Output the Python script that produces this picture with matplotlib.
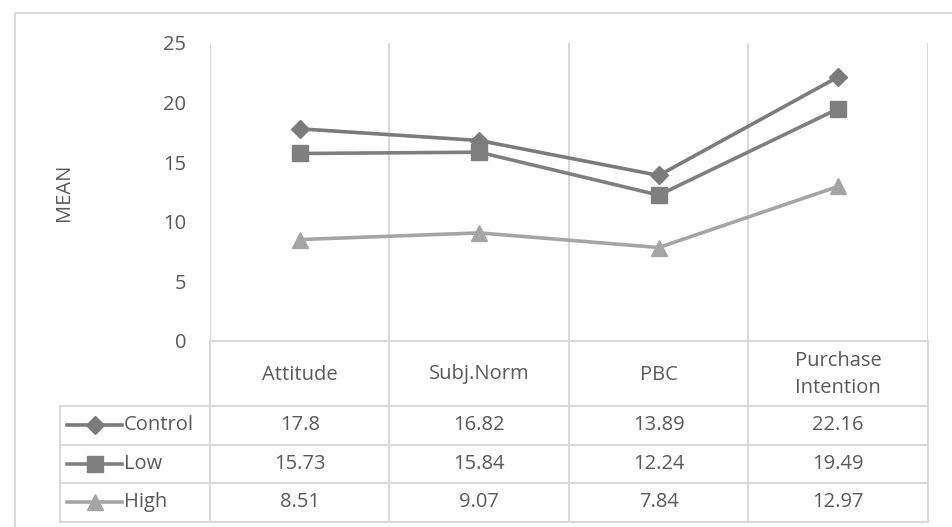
import matplotlib.pyplot as plt
from matplotlib.lines import Line2D
from matplotlib.patches import Rectangle

categories = ["Attitude", "Subj.Norm", "PBC", "Purchase\nIntention"]
series_names = ["Control", "Low", "High"]
control = [17.8, 16.82, 13.89, 22.16]
low = [15.73, 15.84, 12.24, 19.49]
high = [8.51, 9.07, 7.84, 12.97]
yticks = [0, 5, 10, 15, 20, 25]

colors = ["#7b7b7b", "#7f7f7f", "#a5a5a5"]
markers = ["D", "s", "^"]
msizes = [9.5, 11.5, 11.5]
text_c = "#595959"
grid_c = "#d9d9d9"
font = "Open Sans"
fs = 14.5

W, H = 953, 527
fig = plt.figure(figsize=(W / 100, H / 100), dpi=100)

# whole-figure overlay in pixel units for frame and table lines
bg = fig.add_axes([0, 0, 1, 1])
bg.set_xlim(0, W)
bg.set_ylim(H, 0)
bg.axis("off")
bg.add_patch(Rectangle((15, 13), W + 10, H + 10, fill=False, ec=grid_c, lw=1.5))

x0, x1 = 210, 928
y_top, y_zero = 43, 341
ax = fig.add_axes([x0 / W, 1 - y_zero / H, (x1 - x0) / W, (y_zero - y_top) / H])
ax.set_xlim(-0.5, len(categories) - 0.5)
ax.set_ylim(0, 25)
ax.patch.set_alpha(0)
for s in ["top", "right", "left"]:
    ax.spines[s].set_visible(False)
ax.spines["bottom"].set_color(grid_c)
ax.spines["bottom"].set_linewidth(1.5)
ax.set_xticks([])
ax.set_yticks(yticks)
ax.tick_params(axis="y", length=0, pad=17, labelsize=fs, labelcolor=text_c)
for lab in ax.get_yticklabels():
    lab.set_fontfamily(font)
for b in range(len(categories) + 1):
    ax.axvline(b - 0.5, color=grid_c, lw=1.5, zorder=0)
ax.set_ylabel("MEAN", fontsize=fs, color=text_c, family=font, labelpad=64)

xs = list(range(len(categories)))
for vals, c, m, ms in zip([control, low, high], colors, markers, msizes):
    ax.plot(xs, vals, color=c, lw=2.6, marker=m, ms=ms, mfc=c, mec=c, zorder=3)

# data table below the axis
hdr_bot = 406
row_h = 38.5
rows_bot = hdr_bot + row_h * 3
leg_left = 60
px = lambda i: x0 + (i + 0.5) * (x1 - x0) / len(categories)

for b in range(len(categories) + 1):
    xb = x0 + b * (x1 - x0) / len(categories)
    bg.plot([xb, xb], [y_zero, rows_bot], color=grid_c, lw=1.5)
for r in range(0, 4):
    yb = hdr_bot + r * row_h
    bg.plot([leg_left, x1], [yb, yb], color=grid_c, lw=1.5)
bg.plot([leg_left, leg_left], [hdr_bot, rows_bot], color=grid_c, lw=1.5)

for i, cat in enumerate(categories):
    bg.text(px(i), (y_zero + hdr_bot) / 2 + 1, cat, ha="center", va="center",
            fontsize=fs, color=text_c, family=font, linespacing=1.45)

for r, (name, vals, c, m, ms) in enumerate(zip(series_names, [control, low, high],
                                              colors, markers, msizes)):
    yc = hdr_bot + (r + 0.5) * row_h
    bg.add_line(Line2D([67, 122], [yc, yc], color=c, lw=2.6))
    bg.plot([95], [yc], marker=m, ms=ms, color=c, mec=c)
    bg.text(124, yc, name, ha="left", va="center", fontsize=fs,
            color=text_c, family=font)
    for i, v in enumerate(vals):
        bg.text(px(i), yc, f"{v:g}", ha="center", va="center", fontsize=fs,
                color=text_c, family=font)

fig.savefig("out.png", dpi=100)
